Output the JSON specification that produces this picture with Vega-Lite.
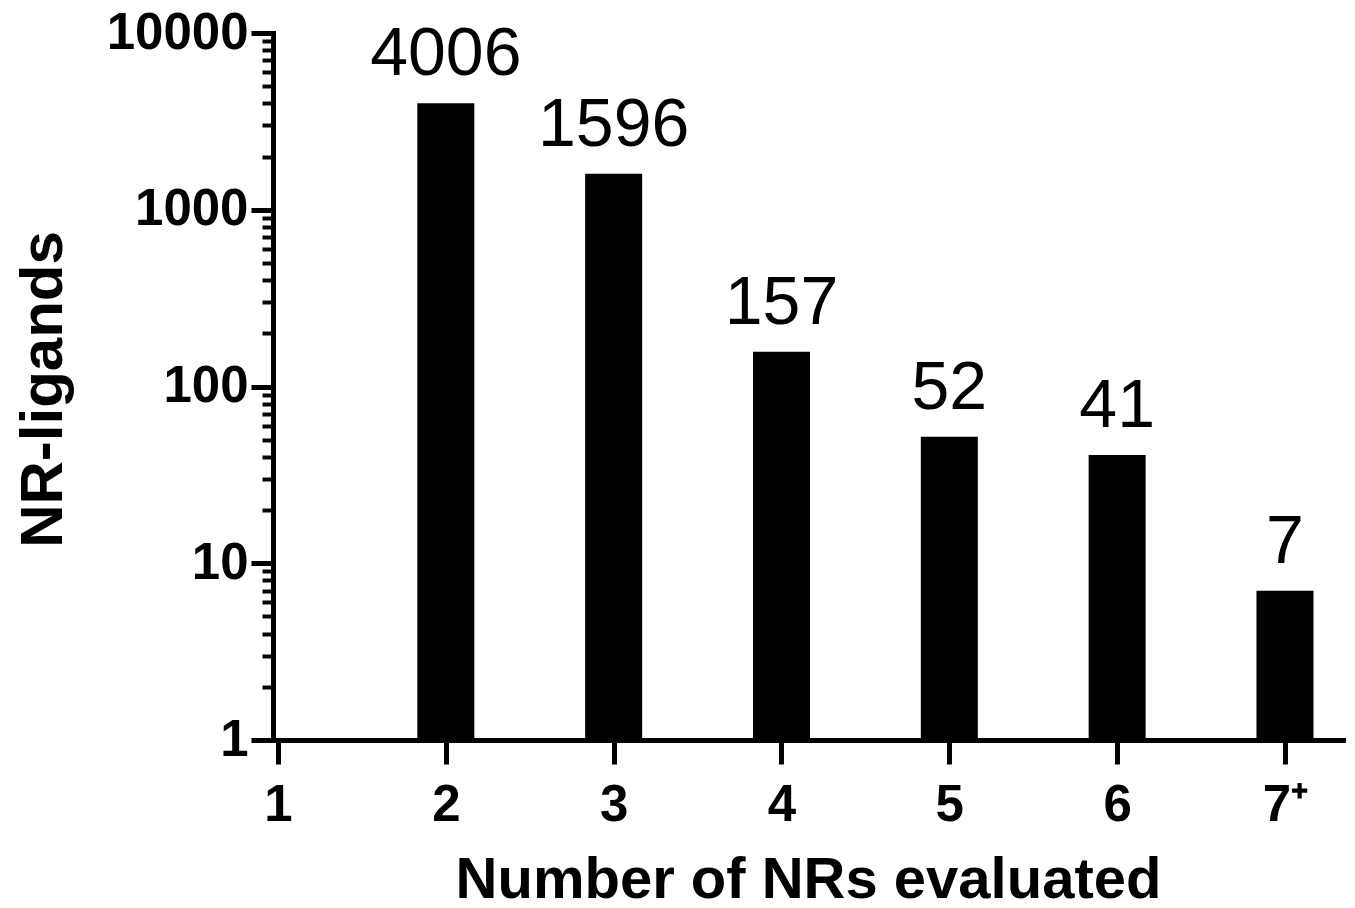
{
  "$schema": "https://vega.github.io/schema/vega-lite/v6.json",
  "autosize": {"type": "none"},
  "width": 1070,
  "height": 707,
  "padding": {"left": 273, "top": 33, "right": 12, "bottom": 168},
  "background": "white",
  "config": {
    "view": {"stroke": null},
    "font": "Liberation Sans"
  },
  "data": {
    "values": [
      {"nrs": 2, "ligands": 4006},
      {"nrs": 3, "ligands": 1596},
      {"nrs": 4, "ligands": 157},
      {"nrs": 5, "ligands": 52},
      {"nrs": 6, "ligands": 41},
      {"nrs": 7, "ligands": 7}
    ]
  },
  "encoding": {
    "x": {
      "field": "nrs",
      "type": "quantitative",
      "scale": {"domain": [1, 7.316], "nice": false, "zero": false},
      "axis": {
        "values": [1, 2, 3, 4, 5, 6, 7],
        "labelExpr": "datum.value == 7 ? '7⁺' : datum.label",
        "grid": false,
        "domainColor": "black",
        "domainWidth": 5,
        "domainCap": "square",
        "tickColor": "black",
        "tickWidth": 5,
        "tickSize": 24,
        "labelFont": "Liberation Sans",
        "labelFontWeight": "bold",
        "labelFontSize": 51,
        "labelColor": "black",
        "labelPadding": 16,
        "labelBaseline": "top",
        "labelFlush": false,
        "labelOverlap": false,
        "title": "Number of NRs evaluated",
        "titleFont": "Liberation Sans",
        "titleFontWeight": "bold",
        "titleFontSize": 58,
        "titleColor": "black",
        "titleBaseline": "alphabetic",
        "titleAnchor": "middle",
        "titleY": 157
      }
    }
  },
  "layer": [
    {
      "mark": {"type": "bar", "color": "black", "size": 57},
      "encoding": {
        "y": {
          "field": "ligands",
          "type": "quantitative",
          "scale": {"type": "log", "domain": [1, 10000], "nice": false},
          "axis": {
            "orient": "left",
            "values": [1, 10, 100, 1000, 10000],
            "format": "d",
            "grid": false,
            "domainColor": "black",
            "domainWidth": 5,
            "domainCap": "square",
            "tickColor": "black",
            "tickWidth": 5,
            "tickSize": 22,
            "labelFont": "Liberation Sans",
            "labelFontWeight": "bold",
            "labelFontSize": 51,
            "labelColor": "black",
            "labelPadding": 3,
            "labelBaseline": "middle",
            "labelFlush": false,
            "labelOverlap": false,
            "title": "NR-ligands",
            "titleFont": "Liberation Sans",
            "titleFontWeight": "bold",
            "titleFontSize": 60,
            "titleColor": "black",
            "titleAngle": -90,
            "titleAlign": "center",
            "titleBaseline": "alphabetic",
            "titleX": -212,
            "titleY": 356
          }
        },
        "y2": {"datum": 1}
      }
    },
    {
      "mark": {
        "type": "text",
        "font": "Liberation Sans",
        "fontSize": 68,
        "color": "black",
        "baseline": "alphabetic",
        "align": "center",
        "dy": -28
      },
      "encoding": {
        "y": {
          "field": "ligands",
          "type": "quantitative",
          "scale": {"type": "log", "domain": [1, 10000], "nice": false},
          "axis": {
            "orient": "left",
            "values": [2, 3, 4, 5, 6, 7, 8, 9, 20, 30, 40, 50, 60, 70, 80, 90, 200, 300, 400, 500, 600, 700, 800, 900, 2000, 3000, 4000, 5000, 6000, 7000, 8000, 9000],
            "labels": false,
            "domain": false,
            "grid": false,
            "tickColor": "black",
            "tickWidth": 4,
            "tickSize": 11,
            "title": null
          }
        },
        "text": {"field": "ligands", "type": "quantitative", "format": "d"}
      }
    }
  ],
  "resolve": {"axis": {"y": "independent"}}
}
